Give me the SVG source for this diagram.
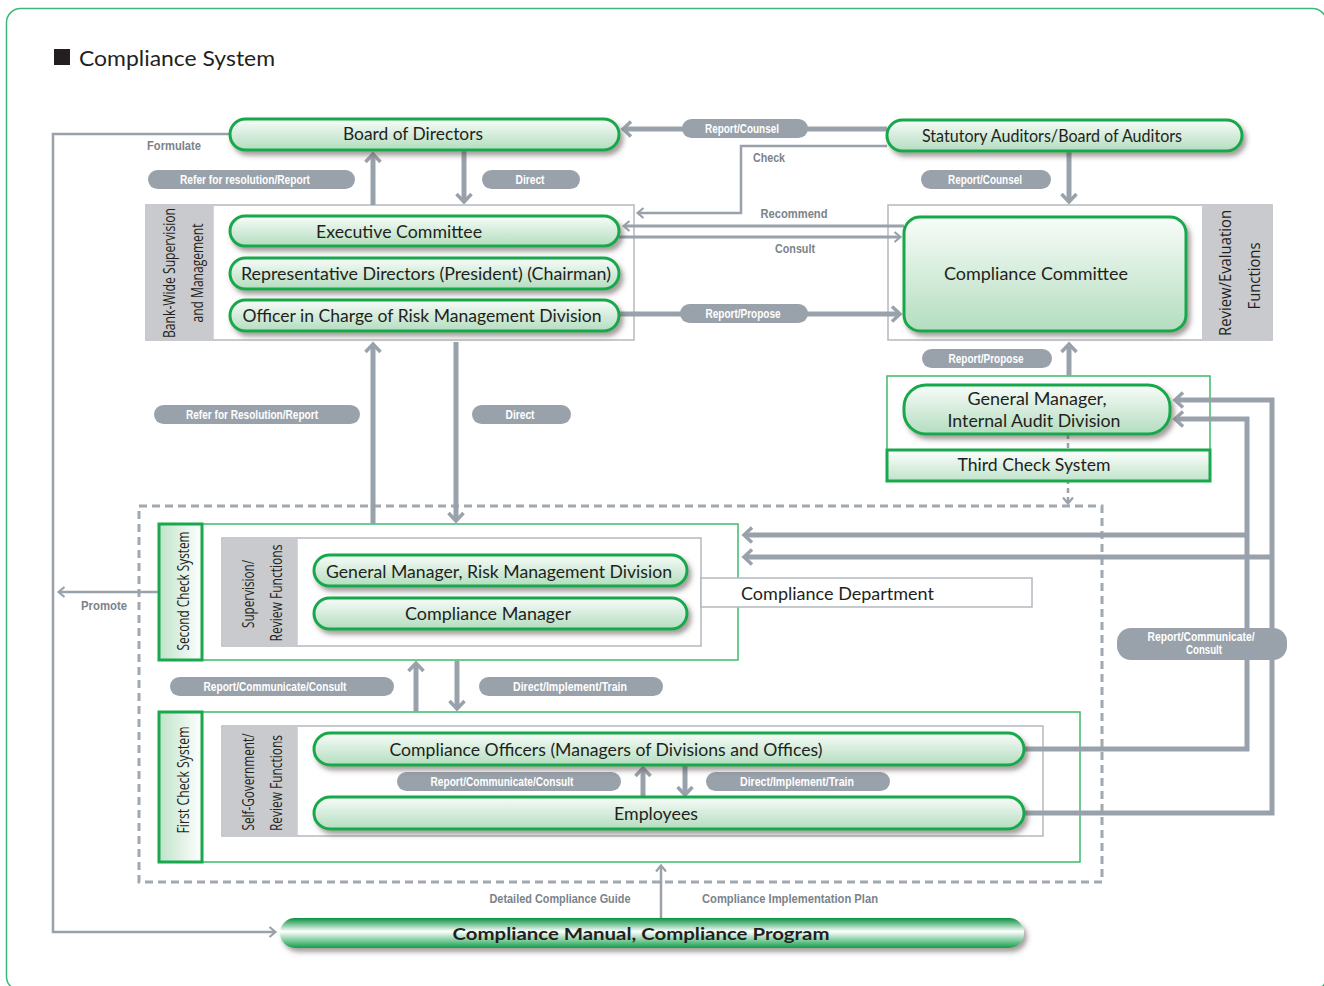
<svg xmlns="http://www.w3.org/2000/svg" width="1324" height="986" viewBox="0 0 1324 986">
  <defs>
    <linearGradient id="gPill" x1="0" y1="0" x2="0" y2="1">
      <stop offset="0" stop-color="#f8fcf9"/>
      <stop offset="1" stop-color="#b3ddbf"/>
    </linearGradient>
    <linearGradient id="gBar" x1="0" y1="0" x2="0" y2="1">
      <stop offset="0" stop-color="#ffffff"/>
      <stop offset="1" stop-color="#bfe3c9"/>
    </linearGradient>
    <linearGradient id="gStrip" x1="0" y1="0" x2="1" y2="0">
      <stop offset="0" stop-color="#bfe3c9"/>
      <stop offset="1" stop-color="#ffffff"/>
    </linearGradient>
    <linearGradient id="gManual" x1="0" y1="0" x2="0" y2="1">
      <stop offset="0" stop-color="#07903f"/>
      <stop offset="0.45" stop-color="#ffffff"/>
      <stop offset="1" stop-color="#129f49"/>
    </linearGradient>
    <filter id="sh" x="-5%" y="-30%" width="112%" height="180%">
      <feDropShadow dx="3" dy="4" stdDeviation="2.5" flood-color="#4a3b3b" flood-opacity="0.5"/>
    </filter>
    <marker id="ah" markerUnits="userSpaceOnUse" markerWidth="16" markerHeight="20" viewBox="0 0 16 20" refX="10" refY="10" orient="auto">
      <path d="M3,2.5 L11,10 L3,17.5" fill="none" stroke="#99a2aa" stroke-width="3.5"/>
    </marker>
    <marker id="ahs" markerUnits="userSpaceOnUse" markerWidth="12" markerHeight="14" viewBox="0 0 12 14" refX="8" refY="7" orient="auto">
      <path d="M2.5,2 L8.5,7 L2.5,12" fill="none" stroke="#99a2aa" stroke-width="2.2"/>
    </marker>
    <style>
      .pill { fill: url(#gPill); stroke: #19a84b; stroke-width: 3; filter: url(#sh); }
      .t { font-family: Lato, "Open Sans", "Liberation Sans", sans-serif; fill: #231f20; text-anchor: middle; font-size: 17px; }
      .vt { font-family: "Open Sans", Lato, "Liberation Sans", sans-serif; fill: #231f20; text-anchor: middle; font-size: 16px; }
      .box { fill: #ffffff; stroke: #b4b9bf; stroke-width: 1.5; }
      .gbox { fill: #ffffff; stroke: #3dbb6a; stroke-width: 1.5; }
      .col { fill: #c9cacd; }
      .strip { fill: url(#gStrip); stroke: #19a84b; stroke-width: 3; }
      .tag { fill: #99a2aa; }
      .tt { font-family: "Liberation Sans Narrow", "Liberation Sans", sans-serif; font-weight: bold; fill: #ffffff; font-size: 12px; text-anchor: middle; }
      .gt { font-family: "Liberation Sans Narrow", "Liberation Sans", sans-serif; font-weight: bold; fill: #7b838a; font-size: 13px; text-anchor: middle; }
      .ln { fill: none; stroke: #99a2aa; stroke-width: 5; }
      .md { fill: none; stroke: #99a2aa; stroke-width: 3; }
      .th { fill: none; stroke: #99a2aa; stroke-width: 2.5; }
    </style>
  </defs>

  <!-- page frame -->
  <rect x="6.5" y="8.5" width="1320" height="982" rx="14" fill="#ffffff" stroke="#3cb878" stroke-width="1.5"/>

  <!-- heading -->
  <g id="heading">
    <rect x="54" y="49" width="16" height="16" fill="#231f20"/>
    <text x="79" y="66" font-family="Lato, 'Open Sans', 'Liberation Sans', sans-serif" font-size="22" fill="#231f20" textLength="196" lengthAdjust="spacingAndGlyphs">Compliance System</text>
  </g>

  <!-- containers -->
  <g id="bank-wide-frame">
    <rect class="box" x="146" y="205" width="488" height="135"/>
    <rect class="col" x="146.75" y="205.75" width="67" height="133.5"/>
    <text class="vt" transform="translate(175 273) rotate(-90)" textLength="130" lengthAdjust="spacingAndGlyphs">Bank-Wide Supervision</text>
    <text class="vt" transform="translate(203 273) rotate(-90)" textLength="99" lengthAdjust="spacingAndGlyphs">and Management</text>
  </g>
  <g id="review-frame">
    <rect class="box" x="888" y="205" width="384" height="135"/>
    <rect class="col" x="1202" y="205.75" width="69.25" height="133.5"/>
    <text class="vt" transform="translate(1231 273) rotate(-90)" textLength="126" lengthAdjust="spacingAndGlyphs">Review/Evaluation</text>
    <text class="vt" transform="translate(1260 276) rotate(-90)" textLength="67" lengthAdjust="spacingAndGlyphs">Functions</text>
  </g>
  <g id="third-check-frame">
    <rect class="gbox" x="887" y="376" width="323" height="105"/>
  </g>
  <g id="check-area">
    <rect x="139" y="506" width="963" height="376" fill="none" stroke="#a0a8b0" stroke-width="3" stroke-dasharray="8 5"/>
  </g>
  <g id="second-check-frame">
    <rect class="gbox" x="159" y="524" width="579" height="136"/>
    <rect class="box" x="222" y="538" width="479" height="108"/>
    <rect class="col" x="222.75" y="538.75" width="75" height="106.5"/>
    <text class="vt" transform="translate(254 594) rotate(-90)" textLength="68" lengthAdjust="spacingAndGlyphs">Supervision/</text>
    <text class="vt" transform="translate(282 593) rotate(-90)" textLength="97" lengthAdjust="spacingAndGlyphs">Review Functions</text>
  </g>
  <g id="first-check-frame">
    <rect class="gbox" x="159" y="712" width="921" height="150"/>
    <rect class="box" x="222" y="726" width="821" height="110"/>
    <rect class="col" x="222.75" y="726.75" width="75" height="108.5"/>
    <text class="vt" transform="translate(254 782) rotate(-90)" textLength="97" lengthAdjust="spacingAndGlyphs">Self-Government/</text>
    <text class="vt" transform="translate(282 783) rotate(-90)" textLength="96" lengthAdjust="spacingAndGlyphs">Review Functions</text>
  </g>

  <!-- connectors -->
  <g id="connectors">
    <path class="th" d="M230,134 H53 V932 H275" marker-end="url(#ahs)"/>
    <path class="th" d="M887,146 H741 V213 H638" marker-end="url(#ahs)"/>
    <path class="th" d="M159,592 H59" marker-end="url(#ahs)"/>
    <path class="th" d="M661,918 V866" marker-end="url(#ahs)"/>
    <path class="th" d="M1068,434 V503" stroke-dasharray="5 4" marker-end="url(#ahs)"/>

    <path class="ln" d="M887,129 H624" marker-end="url(#ah)"/>
    <path class="ln" d="M373,205 V155" marker-end="url(#ah)"/>
    <path class="ln" d="M464,151 V201" marker-end="url(#ah)"/>
    <path class="ln" d="M1069,151 V201" marker-end="url(#ah)"/>
    <path class="ln" d="M1069,376 V345" marker-end="url(#ah)"/>
    <path class="ln" d="M619,314 H899" marker-end="url(#ah)"/>
    <path class="md" d="M904,226 H624" marker-end="url(#ahs)"/>
    <path class="md" d="M619,237 H900" marker-end="url(#ahs)"/>

    <path class="ln" d="M373,524 V345" marker-end="url(#ah)"/>
    <path class="ln" d="M456,342 V520" marker-end="url(#ah)"/>
    <path class="ln" d="M416,712 V664" marker-end="url(#ah)"/>
    <path class="ln" d="M457,661 V708" marker-end="url(#ah)"/>
    <path class="ln" d="M643,797 V769" marker-end="url(#ah)"/>
    <path class="ln" d="M685,766 V794" marker-end="url(#ah)"/>

    <path class="ln" d="M1024,749 H1247 V419 H1176" marker-end="url(#ah)"/>
    <path class="ln" d="M1247,535 H745" marker-end="url(#ah)"/>
    <path class="ln" d="M1024,813 H1272 V400 H1176" marker-end="url(#ah)"/>
    <path class="ln" d="M1272,557 H745" marker-end="url(#ah)"/>
  </g>

  <!-- connector labels -->
  <g id="connector-labels">
    <text class="gt" x="174" y="150" textLength="54" lengthAdjust="spacingAndGlyphs">Formulate</text>
    <text class="gt" x="769" y="162" textLength="32" lengthAdjust="spacingAndGlyphs">Check</text>
    <text class="gt" x="794" y="218" textLength="67" lengthAdjust="spacingAndGlyphs">Recommend</text>
    <text class="gt" x="795" y="253" textLength="40" lengthAdjust="spacingAndGlyphs">Consult</text>
    <text class="gt" x="104" y="610" textLength="46" lengthAdjust="spacingAndGlyphs">Promote</text>
    <text class="gt" x="560" y="903" textLength="141" lengthAdjust="spacingAndGlyphs">Detailed Compliance Guide</text>
    <text class="gt" x="790" y="903" textLength="176" lengthAdjust="spacingAndGlyphs">Compliance Implementation Plan</text>

    <rect class="tag" x="682" y="119" width="126" height="19" rx="9.5"/>
    <text class="tt" x="742" y="133" textLength="74" lengthAdjust="spacingAndGlyphs">Report/Counsel</text>
    <rect class="tag" x="148" y="170" width="207" height="19" rx="9.5"/>
    <text class="tt" x="245" y="184" textLength="130" lengthAdjust="spacingAndGlyphs">Refer for resolution/Report</text>
    <rect class="tag" x="482" y="170" width="98" height="19" rx="9.5"/>
    <text class="tt" x="530" y="184" textLength="29" lengthAdjust="spacingAndGlyphs">Direct</text>
    <rect class="tag" x="921" y="170" width="130" height="19" rx="9.5"/>
    <text class="tt" x="985" y="184" textLength="74" lengthAdjust="spacingAndGlyphs">Report/Counsel</text>
    <rect class="tag" x="680" y="304" width="128" height="19" rx="9.5"/>
    <text class="tt" x="743" y="318" textLength="75" lengthAdjust="spacingAndGlyphs">Report/Propose</text>
    <rect class="tag" x="922" y="349" width="130" height="19" rx="9.5"/>
    <text class="tt" x="986" y="363" textLength="75" lengthAdjust="spacingAndGlyphs">Report/Propose</text>
    <rect class="tag" x="154" y="405" width="206" height="19" rx="9.5"/>
    <text class="tt" x="252" y="419" textLength="132" lengthAdjust="spacingAndGlyphs">Refer for Resolution/Report</text>
    <rect class="tag" x="472" y="405" width="99" height="19" rx="9.5"/>
    <text class="tt" x="520" y="419" textLength="29" lengthAdjust="spacingAndGlyphs">Direct</text>
    <rect class="tag" x="170" y="677" width="224" height="19" rx="9.5"/>
    <text class="tt" x="275" y="691" textLength="143" lengthAdjust="spacingAndGlyphs">Report/Communicate/Consult</text>
    <rect class="tag" x="479" y="677" width="184" height="19" rx="9.5"/>
    <text class="tt" x="570" y="691" textLength="114" lengthAdjust="spacingAndGlyphs">Direct/Implement/Train</text>
    <rect class="tag" x="397" y="772" width="224" height="19" rx="9.5"/>
    <text class="tt" x="502" y="786" textLength="143" lengthAdjust="spacingAndGlyphs">Report/Communicate/Consult</text>
    <rect class="tag" x="706" y="772" width="184" height="19" rx="9.5"/>
    <text class="tt" x="797" y="786" textLength="114" lengthAdjust="spacingAndGlyphs">Direct/Implement/Train</text>
    <rect class="tag" x="1117" y="628" width="170" height="32" rx="14"/>
    <text class="tt" x="1201" y="641" textLength="107" lengthAdjust="spacingAndGlyphs">Report/Communicate/</text>
    <text class="tt" x="1204" y="654" textLength="36" lengthAdjust="spacingAndGlyphs">Consult</text>
  </g>

  <!-- nodes -->
  <g id="board-of-directors">
    <rect class="pill" x="230" y="119" width="389" height="31" rx="15.5"/>
    <text class="t" x="413" y="140" textLength="140" lengthAdjust="spacingAndGlyphs">Board of Directors</text>
  </g>
  <g id="statutory-auditors">
    <rect class="pill" x="887" y="120" width="355" height="31" rx="15.5"/>
    <text class="t" x="1052" y="142" font-size="16" textLength="260" lengthAdjust="spacingAndGlyphs">Statutory Auditors/Board of Auditors</text>
  </g>
  <g id="executive-committee">
    <rect class="pill" x="230" y="216" width="389" height="30" rx="15"/>
    <text class="t" x="399" y="238" textLength="166" lengthAdjust="spacingAndGlyphs">Executive Committee</text>
  </g>
  <g id="representative-directors">
    <rect class="pill" x="230" y="258" width="389" height="31" rx="15.5"/>
    <text class="t" x="426" y="280" textLength="370" lengthAdjust="spacingAndGlyphs">Representative Directors (President) (Chairman)</text>
  </g>
  <g id="risk-officer">
    <rect class="pill" x="230" y="300" width="389" height="31" rx="15.5"/>
    <text class="t" x="422" y="322" textLength="359" lengthAdjust="spacingAndGlyphs">Officer in Charge of Risk Management Division</text>
  </g>
  <g id="compliance-committee">
    <rect class="pill" x="904" y="217" width="282" height="114" rx="16"/>
    <text class="t" x="1036" y="280" textLength="184" lengthAdjust="spacingAndGlyphs">Compliance Committee</text>
  </g>
  <g id="internal-audit">
    <rect class="pill" x="904" y="385" width="266" height="49" rx="22"/>
    <text class="t" x="1037" y="405" textLength="139" lengthAdjust="spacingAndGlyphs">General Manager,</text>
    <text class="t" x="1034" y="427" textLength="173" lengthAdjust="spacingAndGlyphs">Internal Audit Division</text>
  </g>
  <g id="third-check-system">
    <rect x="887" y="450" width="323" height="31" fill="url(#gBar)" stroke="#19a84b" stroke-width="3"/>
    <text class="t" x="1034" y="471" textLength="153" lengthAdjust="spacingAndGlyphs">Third Check System</text>
  </g>
  <g id="second-check-system">
    <rect class="strip" x="159" y="524" width="43" height="136"/>
    <text class="vt" transform="translate(189 591) rotate(-90)" textLength="119" lengthAdjust="spacingAndGlyphs">Second Check System</text>
  </g>
  <g id="gm-risk-management">
    <rect class="pill" x="314" y="555" width="373" height="31" rx="15.5"/>
    <text class="t" x="499" y="578" textLength="346" lengthAdjust="spacingAndGlyphs">General Manager, Risk Management Division</text>
  </g>
  <g id="compliance-manager">
    <rect class="pill" x="314" y="598" width="373" height="31" rx="15.5"/>
    <text class="t" x="488" y="620" textLength="166" lengthAdjust="spacingAndGlyphs">Compliance Manager</text>
  </g>
  <g id="compliance-department">
    <rect class="box" x="701" y="578" width="331" height="29"/>
    <text class="t" x="741" y="600" style="text-anchor:start" textLength="193" lengthAdjust="spacingAndGlyphs">Compliance Department</text>
  </g>
  <g id="first-check-system">
    <rect class="strip" x="159" y="712" width="43" height="150"/>
    <text class="vt" transform="translate(189 780) rotate(-90)" textLength="107" lengthAdjust="spacingAndGlyphs">First Check System</text>
  </g>
  <g id="compliance-officers">
    <rect class="pill" x="314" y="733" width="710" height="32" rx="16"/>
    <text class="t" x="606" y="756" textLength="433" lengthAdjust="spacingAndGlyphs">Compliance Officers (Managers of Divisions and Offices)</text>
  </g>
  <g id="employees">
    <rect class="pill" x="314" y="797" width="710" height="32" rx="16"/>
    <text class="t" x="656" y="820" textLength="84" lengthAdjust="spacingAndGlyphs">Employees</text>
  </g>
  <g id="compliance-manual">
    <rect x="280" y="918" width="744" height="30" rx="15" fill="url(#gManual)" filter="url(#sh)"/>
    <text class="t" x="641" y="940" font-size="18" font-weight="bold" textLength="377" lengthAdjust="spacingAndGlyphs">Compliance Manual, Compliance Program</text>
  </g>
</svg>
